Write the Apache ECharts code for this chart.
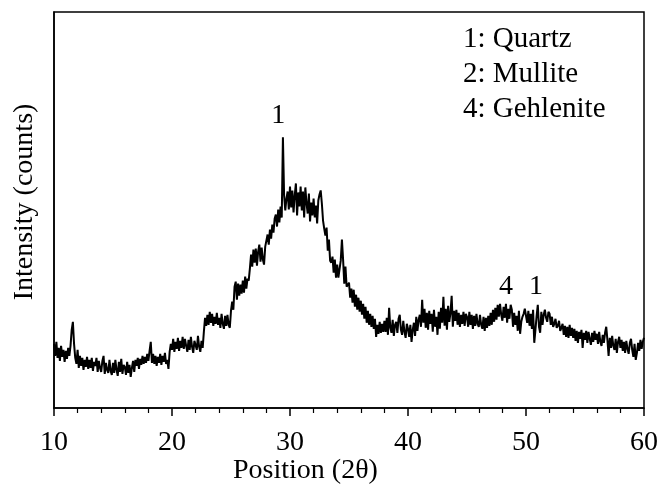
<!DOCTYPE html>
<html>
<head>
<meta charset="utf-8">
<title>XRD pattern</title>
<script src="https://cdn.jsdelivr.net/npm/echarts@6/dist/echarts.min.js"></script>
<style>
  html, body { margin: 0; padding: 0; background: #fff; }
  #chart { width: 662px; height: 487px; }
</style>
</head>
<body>
<div id="chart"></div>
<script>
// Scan range and step of the diffractogram (degrees 2θ)
const scanStart = 10;
const scanStep = 0.1;

// Measured intensity, one row per degree (10.0 … 10.9, 11.0 … 11.9, …), counts
const intensity = [
  64,52,66,50,60,47,62,51,58,46,      // 10
  57,49,60,52,62,78,86,64,50,44,      // 11
  58,40,52,42,50,38,48,41,51,39,      // 12
  48,40,50,37,46,42,50,36,47,40,      // 13
  36,47,52,34,45,38,35,48,37,33,      // 14
  45,35,48,38,32,46,36,49,34,43,      // 15
  41,33,46,35,43,31,40,47,36,48,      // 16
  42,50,39,49,43,52,44,51,45,54,      // 17
  47,57,66,45,54,44,52,42,51,45,      // 18
  54,43,52,46,55,44,48,39,56,64,      // 19
  58,69,56,66,59,70,57,67,60,71,      // 20
  59,69,62,56,68,58,71,61,55,67,      // 21
  68,58,72,61,56,67,60,76,90,82,      // 22
  93,83,96,85,94,82,91,84,95,83,      // 23
  90,80,94,84,79,92,82,93,83,80,      // 24
  97,106,98,121,126,108,124,112,123,114,   // 25
  127,115,131,119,129,127,139,153,141,158, // 26
  145,159,142,156,163,146,160,148,143,161, // 27
  160,173,163,178,169,183,175,189,193,181, // 28
  198,185,201,190,270,212,197,209,216,198, // 29
  221,200,217,195,212,224,192,215,201,221, // 30
  197,216,190,220,204,194,214,186,205,192, // 31
  209,190,202,184,207,213,217,204,187,179, // 32
  172,180,157,168,147,145,151,135,148,130, // 33
  143,130,131,147,168,148,124,141,121,120, // 34
  125,110,119,105,118,101,113,98,110,96,   // 35
  107,93,104,89,101,85,97,83,94,81,   // 36
  92,79,89,71,83,74,86,75,84,76,      // 37
  87,76,90,73,100,80,75,88,72,83,     // 38
  86,75,89,93,78,73,87,76,70,84,      // 39
  79,71,83,66,78,85,72,91,77,88,      // 40
  93,81,108,85,99,80,95,78,97,84,     // 41
  94,76,98,81,91,73,96,79,100,85,     // 42
  111,82,99,78,102,86,95,112,81,97,   // 43
  87,98,83,95,81,93,84,96,82,94,      // 44
  91,81,96,83,93,79,92,82,94,84,      // 45
  81,93,83,79,91,77,90,80,92,82,      // 46
  95,83,98,86,100,88,103,91,104,93,   // 47
  87,101,90,104,85,99,89,103,98,81,   // 48
  95,83,92,77,97,74,86,91,94,99,      // 49
  99,85,97,82,94,79,98,65,78,92,      // 50
  103,81,75,96,83,93,98,90,86,96,     // 51
  94,83,91,81,84,89,80,82,87,77,      // 52
  80,84,73,82,71,81,70,83,72,80,      // 53
  70,79,67,77,65,76,69,78,60,75,      // 54
  68,77,65,76,69,63,75,66,77,68,      // 55
  74,64,76,66,62,73,65,75,81,68,      // 56
  52,70,60,72,62,58,69,55,66,71,      // 57
  60,68,57,66,55,67,59,54,65,69,      // 58
  58,51,64,48,55,65,57,68,59,66,      // 59
  70                                  // 60
];

// Phase identification labels above the peaks
const peakLabels = ['1', '4', '1'];
const peakAngles = [29.0, 48.3, 50.85];
const peakLabelLevels = [292, 121, 121];

// Legend of the phase numbers
const phaseLegend = ['1: Quartz', '2: Mullite', '4: Gehlenite'];

const serif = '"Liberation Serif", "Times New Roman", serif';

const pattern = intensity.map((v, i) => [+(scanStart + i * scanStep).toFixed(1), v]);
const peakMarks = peakAngles.map((a, i) => ({ value: [a, peakLabelLevels[i]], name: peakLabels[i] }));

const chart = echarts.init(document.getElementById('chart'), null, { renderer: 'canvas' });

chart.setOption({
  backgroundColor: '#fff',
  animation: false,
  grid: {
    left: 54, right: 18, top: 12, bottom: 79,
    show: true, borderColor: '#000', borderWidth: 1.5, backgroundColor: 'transparent'
  },
  xAxis: {
    type: 'value',
    min: 10, max: 60, interval: 10,
    axisLine: { show: true, onZero: false, lineStyle: { color: '#000', width: 1.5 } },
    axisTick: { show: true, inside: false, length: 8, lineStyle: { color: '#000', width: 1.5 } },
    minorTick: { show: true, splitNumber: 5, length: 5, lineStyle: { color: '#000', width: 1.2 } },
    splitLine: { show: false },
    axisLabel: { color: '#000', fontFamily: serif, fontSize: 28, margin: 21 }
  },
  yAxis: {
    type: 'value',
    min: 0, max: 395,
    axisLine: { show: true, lineStyle: { color: '#000', width: 1.5 } },
    axisTick: { show: false },
    axisLabel: { show: false },
    splitLine: { show: false }
  },
  series: [
    {
      type: 'line',
      data: pattern,
      showSymbol: false,
      symbol: 'none',
      lineStyle: { color: '#000', width: 2 },
      z: 3
    },
    {
      type: 'scatter',
      data: peakMarks,
      symbolSize: 0,
      silent: true,
      itemStyle: { opacity: 1, color: '#000' },
      label: {
        show: true,
        position: 'inside',
        formatter: p => p.name,
        color: '#000',
        opacity: 1,
        textBorderWidth: 0,
        fontFamily: serif,
        fontSize: 28
      },
      z: 4
    }
  ],
  graphic: [
    {
      type: 'text',
      left: 233, top: 457,
      style: { text: 'Position (2θ)', fill: '#000', font: '28px ' + serif }
    },
    {
      type: 'text',
      x: 25, y: 202,
      rotation: Math.PI / 2,
      style: {
        text: 'Intensity (counts)', fill: '#000', font: '28px ' + serif,
        textAlign: 'center', textVerticalAlign: 'middle'
      }
    },
    {
      type: 'group',
      left: 463, top: 25,
      children: phaseLegend.map((t, i) => ({
        type: 'text',
        x: 0, y: i * 35,
        style: { text: t, fill: '#000', font: '29px ' + serif }
      }))
    }
  ]
});
</script>
</body>
</html>
